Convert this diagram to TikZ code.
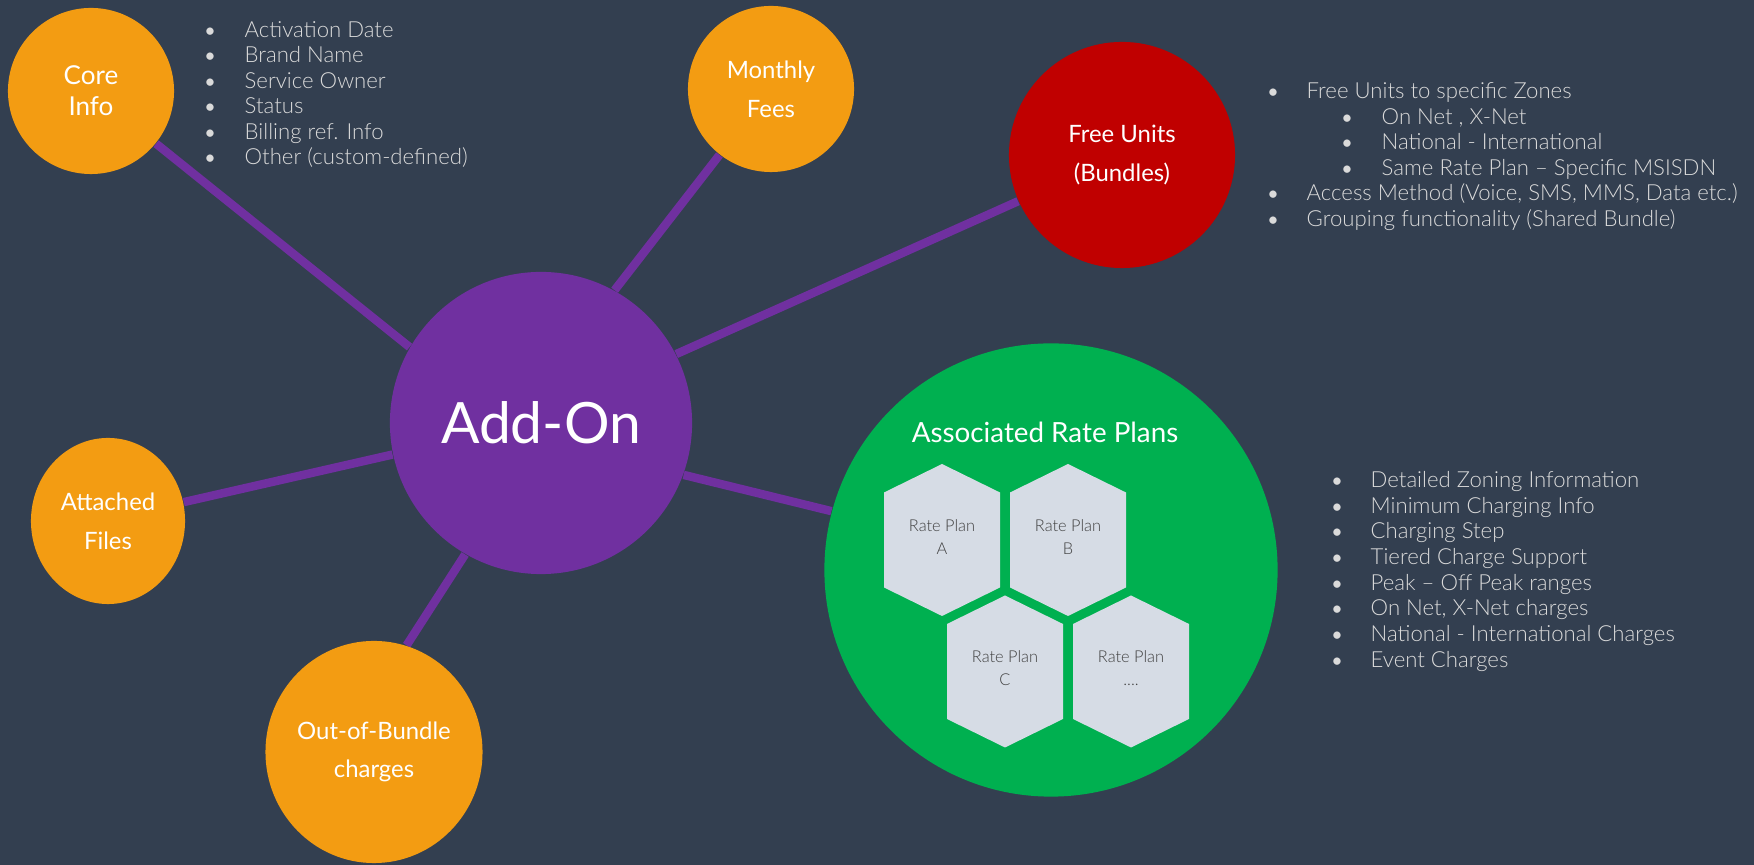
\documentclass[tikz,border=0pt]{standalone}
\usepackage{fontspec}
\setmainfont{Lato}
\IfFontExistsTF{Lato Light}{\newfontfamily\listfont{Lato Light}}{\newfontfamily\listfont{Lato}}
\usetikzlibrary{shapes.geometric}

\definecolor{slate}{HTML}{333F50}
\definecolor{addonpurple}{HTML}{7030A0}
\definecolor{bubbleorange}{HTML}{F39C12}
\definecolor{bundlered}{HTML}{C00000}
\definecolor{plangreen}{HTML}{00B050}
\definecolor{hexgray}{HTML}{D6DCE5}
\definecolor{hexink}{HTML}{404040}
\definecolor{listgray}{HTML}{DADADA}

\pgfdeclarelayer{bg}
\pgfdeclarelayer{links}
\pgfsetlayers{bg,links,main}

\newcommand{\moreplans}{....}

\tikzset{
	bubble/.style={circle, fill=bubbleorange, text=white, align=center, inner sep=0pt,
		font=\fontsize{6.8}{11}\selectfont},
	link/.style={addonpurple, line width=2.4pt},
	listitem/.style={anchor=base west, inner sep=0pt, text=listgray,
		font=\listfont\fontsize{6.3}{7.5}\selectfont},
	listdot/.style={anchor=base, inner sep=0pt, text=listgray,
		font=\fontsize{5.6}{7.5}\selectfont},
	hextext/.style={align=center, inner sep=0pt, text=hexink,
		font=\listfont\fontsize{4.65}{6.5}\selectfont},
}

\begin{document}
\begin{tikzpicture}[x=0.01cm, y=-0.01cm, line join=round]
	
	\useasboundingbox (0,0) rectangle (1754,865);
	\begin{pgfonlayer}{bg}
		\fill[slate] (0,0) rectangle (1754,865);
	\end{pgfonlayer}
	
	% hub and satellites
	\node[circle, fill=addonpurple, minimum size=3.02cm, inner sep=0pt, text=white,
	font=\fontsize{16.2}{20}\selectfont] (addon) at (541,423) {Add-On};
	\node[bubble, minimum size=1.66cm, font=\fontsize{7.4}{8.8}\selectfont] (core) at (91,91) {Core\\Info};
	\node[bubble, minimum size=1.66cm] (fees) at (771,89) {Monthly\\Fees};
	\node[bubble, fill=bundlered, minimum size=2.26cm] (bundles) at (1122,155) {Free Units\\(Bundles)};
	\node[bubble, ellipse, minimum width=1.54cm, minimum height=1.66cm] (files) at (108,521) {Attached\\Files};
	\node[bubble, ellipse, minimum width=2.12cm, minimum height=2.22cm] (oob) at (374,752) {Out-of-Bundle\\charges};
	\node[circle, fill=plangreen, minimum size=4.53cm, inner sep=0pt] (plans) at (1051,570) {};
	
	\begin{pgfonlayer}{links}
		\draw[link] (addon.150) -- (core.-39);
		\draw[link] (addon.61) -- (fees.-128);
		\draw[link] (addon.27) -- (bundles.204);
		\draw[link] (addon.-20) -- (plans.165);
		\draw[link] (addon.192) -- (files.14);
		\draw[link] (addon.-120) -- (oob.73);
	\end{pgfonlayer}
	
	% rate plans
	\node[anchor=base, inner sep=0pt, text=white, font=\fontsize{7.9}{10}\selectfont]
	(planstitle) at (1045,443) {Associated Rate Plans};
	\foreach \name/\cx/\cy/\lbl in {A/942/540/A, B/1068/540/B, C/1005/671.5/C, D/1131/671.5/\moreplans}{
		\fill[hexgray] (\cx,\cy) ++(0,-76) -- ++(58,28.5) -- ++(0,95) -- ++(-58,28.5)
		-- ++(-58,-28.5) -- ++(0,-95) -- cycle;
		\node[hextext] (plan\name) at (\cx,\cy-3) {Rate Plan\\\lbl};
	}
	
	% core info list
	\foreach \txt [count=\i from 0] in {Activation Date, Brand Name, Service Owner, Status,
		Billing ref. Info, Other (custom-defined)}{
		\node[listdot] (coredot\i) at (210,37.5+25.4*\i) {•};
		\node[listitem] (coreitem\i) at (244,37.5+25.4*\i) {\txt};
	}
	
	% free units list
	\foreach \lvl/\txt [count=\i from 0] in {0/Free Units to specific Zones, {1/On Net , X-Net},
		1/National - International, 1/Same Rate Plan – Specific MSISDN,
		{0/Access Method (Voice, SMS, MMS, Data etc.)}, 0/Grouping functionality (Shared Bundle)}{
		\node[listdot] (bundledot\i) at (1273+74*\lvl,98.5+25.6*\i) {•};
		\node[listitem] (bundleitem\i) at (1306+75*\lvl,98.5+25.6*\i) {\txt};
	}
	
	% rate plan list
	\foreach \txt [count=\i from 0] in {Detailed Zoning Information, Minimum Charging Info,
		Charging Step, Tiered Charge Support, Peak – Off Peak ranges, {On Net, X-Net charges},
		National - International Charges, Event Charges}{
		\node[listdot] (plandot\i) at (1337,487.5+25.7*\i) {•};
		\node[listitem] (planitem\i) at (1370,487.5+25.7*\i) {\txt};
	}
	
\end{tikzpicture}
\end{document}
